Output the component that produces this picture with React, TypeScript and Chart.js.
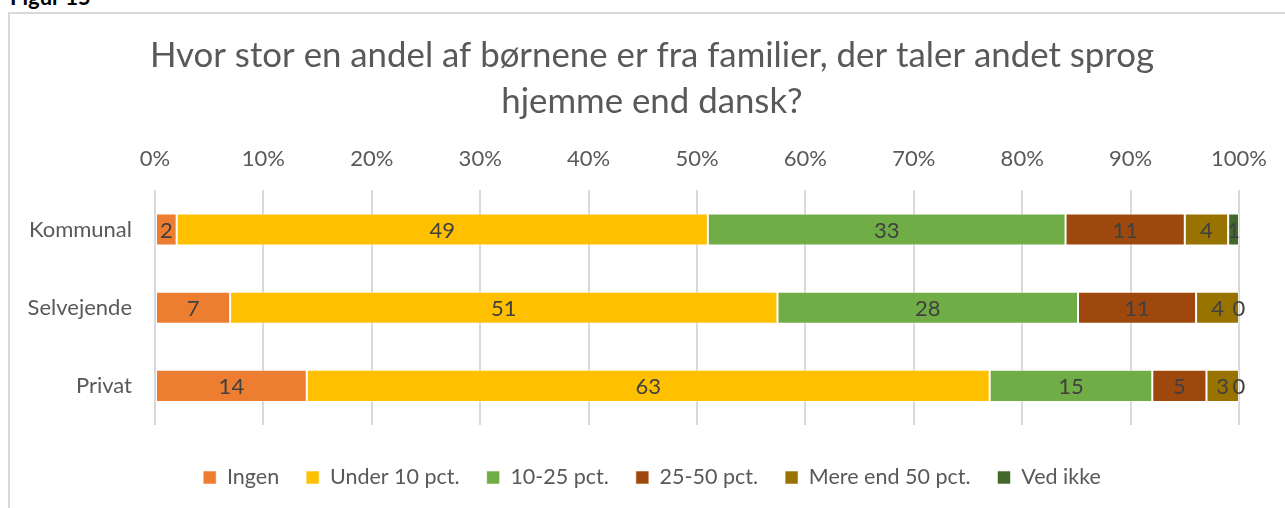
import React, { useEffect, useRef } from "react";
import { Chart, registerables } from "chart.js";

Chart.register(...registerables);

const titleLines = [
  "Hvor stor en andel af børnene er fra familier, der taler andet sprog",
  "hjemme end dansk?",
];
const categories = ["Kommunal", "Selvejende", "Privat"];
const seriesNames = ["Ingen", "Under 10 pct.", "10-25 pct.", "25-50 pct.", "Mere end 50 pct.", "Ved ikke"];
const ingen = [2, 7, 14];
const under10 = [49, 51, 63];
const p10to25 = [33, 28, 15];
const p25to50 = [11, 11, 5];
const over50 = [4, 4, 3];
const vedIkke = [1, 0, 0];
const seriesColors = ["#ED7D31", "#FFC000", "#70AD47", "#9E480E", "#997300", "#43682B"];
const xTickValues = [0, 10, 20, 30, 40, 50, 60, 70, 80, 90, 100];

const rawSeries = [ingen, under10, p10to25, p25to50, over50, vedIkke];

const FONT = "Lato";
const TEXT = "#595959";

const labelPlugin = {
  id: "barLabels",
  afterDatasetsDraw(chart: any) {
    const ctx = chart.ctx;
    ctx.save();
    ctx.font = `22px ${FONT}`;
    ctx.fillStyle = "#404040";
    ctx.textAlign = "center";
    ctx.textBaseline = "middle";
    chart.data.datasets.forEach((_ds: any, i: number) => {
      const meta = chart.getDatasetMeta(i);
      meta.data.forEach((el: any, j: number) => {
        const p = el.getCenterPoint();
        ctx.fillText(String(rawSeries[i][j]), p.x, p.y + 1);
      });
    });
    ctx.restore();
  },
};

export default function App() {
  const ref = useRef<HTMLCanvasElement | null>(null);

  useEffect(() => {
    if (!ref.current) return;
    const totals = categories.map((_, j) => rawSeries.reduce((s, arr) => s + arr[j], 0));
    const datasets = rawSeries.map((arr, i) => ({
      label: seriesNames[i],
      data: arr.map((v, j) => (v / totals[j]) * 100),
      backgroundColor: seriesColors[i],
      borderColor: "rgba(255,255,255,0.55)",
      borderWidth: 1,
      borderSkipped: false,
      categoryPercentage: 1,
      barPercentage: 0.41,
    }));

    const chart = new Chart(ref.current, {
      type: "bar",
      data: { labels: categories, datasets },
      plugins: [labelPlugin],
      options: {
        indexAxis: "y",
        animation: false,
        responsive: false,
        devicePixelRatio: 1,
        layout: { padding: { top: 0, bottom: 9.75, left: 0, right: 0 } },
        plugins: {
          title: {
            display: true,
            text: titleLines,
            color: TEXT,
            font: { family: FONT, size: 34.8, weight: "normal", lineHeight: 46 / 34.8 },
            padding: { top: 19, bottom: 3 },
          },
          legend: {
            display: true,
            position: "bottom",
            labels: {
              boxWidth: 13,
              boxHeight: 13,
              padding: 27,
              color: TEXT,
              font: { family: FONT, size: 21.5 },
            },
          },
          tooltip: { enabled: false },
        },
        scales: {
          x: {
            type: "linear",
            position: "top",
            stacked: true,
            min: 0,
            max: 100,
            afterBuildTicks: (s: any) => {
              s.ticks = xTickValues.map((v) => ({ value: v }));
            },
            ticks: {
              callback: (v: any) => `${v}%`,
              color: TEXT,
              font: { family: FONT, size: 22 },
              padding: 18,
              maxRotation: 0,
            },
            grid: { color: "#d9d9d9", lineWidth: 2, drawTicks: false },
            border: { display: false },
          },
          xb: {
            type: "linear",
            position: "bottom",
            display: true,
            ticks: { display: false },
            grid: { display: false, drawTicks: false },
            border: { display: false },
            afterFit: (s: any) => {
              s.height = 14.75;
            },
          },
          y: {
            type: "category",
            stacked: true,
            ticks: { color: TEXT, font: { family: FONT, size: 22 }, padding: 23 },
            grid: { display: false, drawTicks: false },
            border: { display: false },
            afterFit: (s: any) => {
              s.width = 144;
            },
          },
          yr: {
            type: "linear",
            position: "right",
            display: true,
            ticks: { display: false },
            grid: { display: false, drawTicks: false },
            border: { display: false },
            afterFit: (s: any) => {
              s.width = 54;
            },
          },
        },
      } as any,
    });
    return () => chart.destroy();
  }, []);

  return (
    <div style={{ position: "relative", width: 1285, height: 508, overflow: "hidden", background: "#fff" }}>
      <style>{"html,body{margin:0;padding:0;overflow:hidden;}"}</style>
      <div
        style={{
          position: "absolute",
          left: 10,
          top: -14,
          fontFamily: FONT,
          fontWeight: "bold",
          fontSize: 22,
          lineHeight: "22px",
          color: "#000",
          whiteSpace: "nowrap",
        }}
      >
        Figur 15
      </div>
      <div
        style={{
          position: "absolute",
          left: 8,
          top: 12,
          width: 1300,
          height: 520,
          border: "2px solid #d9d9d9",
          boxSizing: "border-box",
        }}
      />
      <canvas
        ref={ref}
        width={1282}
        height={494}
        style={{ position: "absolute", left: 11, top: 14, width: 1282, height: 494 }}
      />
    </div>
  );
}
